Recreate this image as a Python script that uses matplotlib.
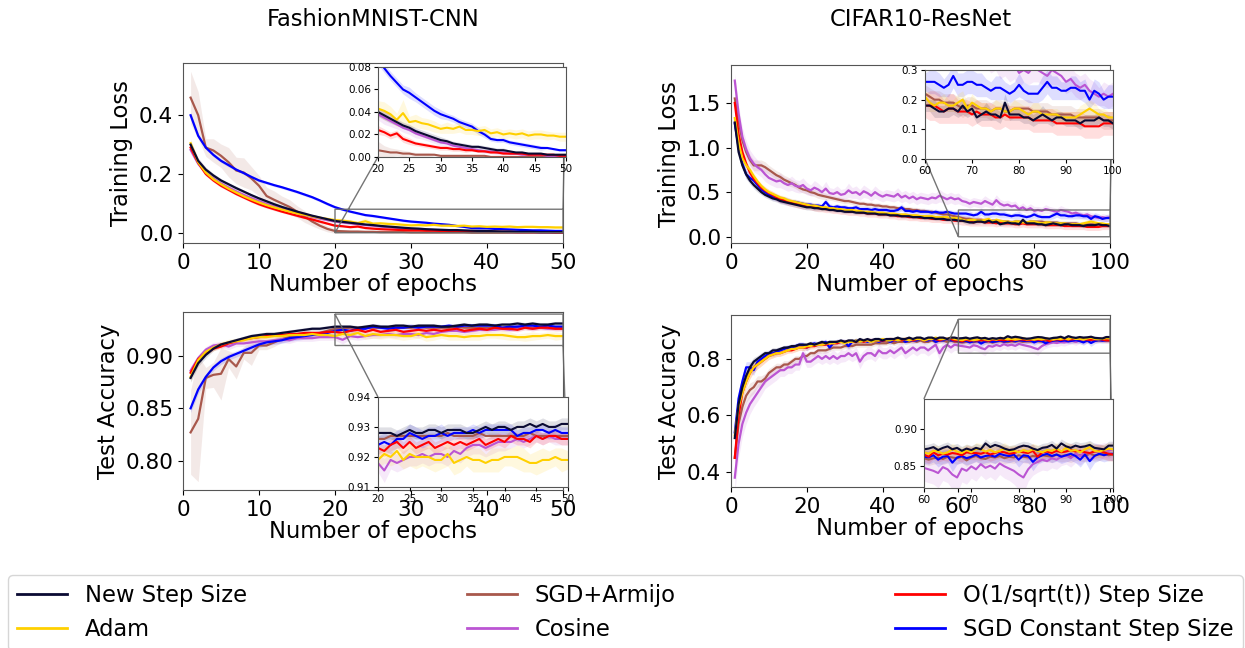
import numpy as np
import matplotlib
matplotlib.use("Agg")
import matplotlib.pyplot as plt

# ---------------- labels ----------------
methods = ["New Step Size", "Adam", "SGD+Armijo", "Cosine",
           "O(1/sqrt(t)) Step Size", "SGD Constant Step Size"]
titles = ["FashionMNIST-CNN", "CIFAR10-ResNet"]
xlabel = "Number of epochs"
ylabels = ["Training Loss", "Test Accuracy"]

# ---------------- FashionMNIST : training loss (epochs 1..50) ----------------
fm_loss_new = [0.300,0.245,0.215,0.195,0.178,0.165,0.152,0.140,0.128,0.117,
               0.107,0.097,0.088,0.080,0.072,0.065,0.058,0.052,0.046,0.040,
               0.037,0.034,0.031,0.028,0.026,0.023,0.021,0.019,0.017,0.015,
               0.014,0.012,0.011,0.010,0.009,0.009,0.008,0.007,0.006,0.006,
               0.005,0.004,0.004,0.003,0.003,0.003,0.002,0.002,0.002,0.002]
fm_loss_adam = [0.305,0.240,0.205,0.182,0.165,0.150,0.137,0.124,0.113,0.103,
                0.094,0.086,0.079,0.072,0.066,0.061,0.056,0.051,0.047,0.043,
                0.041,0.038,0.033,0.039,0.031,0.032,0.030,0.029,0.027,0.025,
                0.026,0.025,0.027,0.024,0.024,0.023,0.024,0.021,0.022,0.020,
                0.021,0.020,0.021,0.019,0.020,0.020,0.019,0.019,0.018,0.018]
fm_loss_armijo = [0.460,0.400,0.290,0.280,0.262,0.240,0.212,0.205,0.185,0.160,
                  0.125,0.112,0.100,0.088,0.072,0.055,0.038,0.024,0.013,0.006,
                  0.005,0.004,0.004,0.003,0.003,0.002,0.002,0.002,0.002,0.001,
                  0.001,0.001,0.001,0.001,0.001,0.001,0.001,0.000,0.000,0.000,
                  0.000,0.000,0.000,0.000,0.000,0.000,0.000,0.000,0.000,0.000]
fm_loss_cos = [0.282,0.235,0.205,0.185,0.168,0.154,0.141,0.129,0.118,0.108,
               0.098,0.090,0.082,0.074,0.067,0.060,0.054,0.048,0.043,0.038,
               0.035,0.032,0.029,0.026,0.024,0.021,0.019,0.017,0.015,0.013,
               0.012,0.010,0.009,0.008,0.007,0.006,0.005,0.005,0.004,0.004,
               0.003,0.003,0.002,0.002,0.002,0.002,0.001,0.001,0.001,0.001]
fm_loss_sqrt = [0.290,0.238,0.200,0.178,0.160,0.146,0.132,0.120,0.108,0.097,
                0.088,0.080,0.072,0.065,0.058,0.051,0.045,0.038,0.031,0.024,
                0.022,0.019,0.021,0.016,0.014,0.012,0.011,0.010,0.009,0.008,
                0.008,0.007,0.007,0.006,0.006,0.005,0.005,0.004,0.004,0.003,
                0.003,0.003,0.003,0.002,0.002,0.002,0.002,0.002,0.001,0.001]
fm_loss_const = [0.400,0.330,0.290,0.265,0.245,0.230,0.215,0.203,0.190,0.178,
                 0.170,0.162,0.155,0.147,0.139,0.130,0.121,0.110,0.098,0.087,
                 0.079,0.072,0.066,0.060,0.057,0.053,0.049,0.045,0.041,0.038,
                 0.036,0.034,0.031,0.029,0.027,0.023,0.020,0.016,0.015,0.015,
                 0.013,0.012,0.011,0.010,0.009,0.008,0.008,0.007,0.006,0.006]

fm_loss_new_sd = [0.012,0.010,0.008,0.007,0.006,0.006,0.006,0.005,0.005,0.005,
                  0.005,0.005,0.005,0.004,0.004,0.004,0.004,0.004,0.004,0.004,
                  0.004,0.004,0.003,0.003,0.003,0.003,0.003,0.003,0.003,0.003,
                  0.002,0.002,0.002,0.002,0.002,0.002,0.002,0.002,0.002,0.002,
                  0.001,0.001,0.001,0.001,0.001,0.001,0.001,0.001,0.001,0.001]
fm_loss_adam_sd = [0.015,0.010,0.008,0.007,0.006,0.006,0.006,0.006,0.006,0.006,
                   0.006,0.006,0.006,0.006,0.006,0.006,0.006,0.006,0.006,0.007,
                   0.008,0.007,0.006,0.012,0.005,0.006,0.005,0.005,0.005,0.004,
                   0.005,0.004,0.005,0.004,0.004,0.004,0.004,0.004,0.004,0.004,
                   0.004,0.004,0.004,0.004,0.004,0.004,0.004,0.003,0.004,0.004]
fm_loss_armijo_sd = [0.090,0.080,0.030,0.040,0.040,0.050,0.045,0.050,0.040,0.035,
                     0.030,0.030,0.025,0.025,0.020,0.020,0.015,0.012,0.010,0.008,
                     0.005,0.004,0.003,0.003,0.002,0.002,0.002,0.002,0.001,0.001,
                     0.001,0.001,0.001,0.001,0.001,0.001,0.001,0.001,0.001,0.001,
                     0.001,0.001,0.001,0.001,0.001,0.001,0.001,0.001,0.001,0.001]
fm_loss_cos_sd = [0.012,0.010,0.008,0.007,0.007,0.006,0.006,0.006,0.006,0.006,
                  0.006,0.006,0.006,0.005,0.005,0.005,0.005,0.005,0.005,0.005,
                  0.006,0.005,0.004,0.004,0.004,0.004,0.003,0.003,0.003,0.003,
                  0.002,0.002,0.002,0.002,0.002,0.002,0.002,0.002,0.002,0.002,
                  0.001,0.001,0.001,0.001,0.001,0.001,0.001,0.001,0.001,0.001]
fm_loss_sqrt_sd = [0.010,0.008,0.007,0.006,0.006,0.005,0.005,0.005,0.005,0.005,
                   0.005,0.005,0.004,0.004,0.004,0.004,0.004,0.004,0.004,0.004,
                   0.003,0.003,0.003,0.003,0.003,0.002,0.002,0.002,0.002,0.002,
                   0.002,0.002,0.002,0.002,0.001,0.001,0.001,0.001,0.001,0.001,
                   0.001,0.001,0.001,0.001,0.001,0.001,0.001,0.001,0.001,0.001]
fm_loss_const_sd = [0.010,0.008,0.007,0.006,0.006,0.006,0.005,0.005,0.005,0.005,
                    0.005,0.005,0.005,0.005,0.005,0.005,0.005,0.005,0.005,0.005,
                    0.004,0.004,0.004,0.004,0.005,0.004,0.004,0.004,0.004,0.004,
                    0.003,0.003,0.003,0.003,0.003,0.003,0.003,0.002,0.002,0.002,
                    0.002,0.002,0.002,0.002,0.002,0.002,0.001,0.001,0.001,0.001]

# ---------------- FashionMNIST : test accuracy (epochs 1..50) ----------------
fm_acc_new = [0.879,0.893,0.901,0.907,0.911,0.913,0.915,0.917,0.919,0.920,
              0.921,0.921,0.922,0.923,0.924,0.925,0.926,0.926,0.927,0.928,
              0.928,0.928,0.927,0.928,0.929,0.928,0.928,0.929,0.929,0.928,
              0.929,0.929,0.929,0.928,0.928,0.929,0.930,0.929,0.930,0.930,
              0.929,0.930,0.930,0.931,0.930,0.931,0.930,0.930,0.931,0.931]
fm_acc_adam = [0.880,0.896,0.904,0.908,0.911,0.913,0.914,0.915,0.917,0.918,
               0.918,0.919,0.919,0.920,0.920,0.920,0.921,0.920,0.920,0.919,
               0.921,0.920,0.922,0.919,0.921,0.920,0.920,0.920,0.919,0.919,
               0.921,0.918,0.919,0.920,0.919,0.919,0.918,0.919,0.919,0.920,
               0.920,0.920,0.919,0.918,0.918,0.919,0.919,0.920,0.919,0.919]
fm_acc_armijo = [0.827,0.840,0.879,0.882,0.883,0.897,0.890,0.903,0.903,0.910,
                 0.910,0.913,0.916,0.918,0.919,0.920,0.921,0.922,0.924,0.926,
                 0.926,0.927,0.927,0.927,0.927,0.927,0.927,0.927,0.927,0.927,
                 0.928,0.927,0.927,0.927,0.927,0.928,0.927,0.927,0.927,0.927,
                 0.927,0.927,0.927,0.928,0.927,0.927,0.927,0.927,0.927,0.927]
fm_acc_cos = [0.886,0.898,0.906,0.910,0.911,0.909,0.912,0.912,0.913,0.914,
              0.914,0.915,0.916,0.915,0.917,0.917,0.917,0.918,0.918,0.918,
              0.9155,0.919,0.918,0.919,0.920,0.920,0.921,0.920,0.921,0.921,
              0.920,0.922,0.921,0.923,0.924,0.924,0.923,0.924,0.925,0.925,
              0.925,0.926,0.925,0.926,0.927,0.926,0.927,0.926,0.926,0.926]
fm_acc_sqrt = [0.884,0.897,0.903,0.907,0.909,0.912,0.914,0.916,0.917,0.918,
               0.919,0.920,0.920,0.921,0.921,0.922,0.922,0.922,0.923,0.923,
               0.922,0.924,0.925,0.923,0.925,0.923,0.924,0.925,0.923,0.924,
               0.925,0.924,0.925,0.924,0.925,0.926,0.924,0.925,0.926,0.925,
               0.927,0.926,0.926,0.925,0.927,0.926,0.927,0.927,0.926,0.926]
fm_acc_const = [0.850,0.868,0.880,0.889,0.895,0.899,0.902,0.905,0.908,0.911,
                0.913,0.914,0.915,0.917,0.918,0.919,0.920,0.921,0.922,0.924,
                0.925,0.924,0.926,0.926,0.928,0.927,0.926,0.927,0.927,0.928,
                0.927,0.928,0.928,0.928,0.929,0.928,0.929,0.929,0.929,0.929,
                0.929,0.927,0.928,0.928,0.929,0.929,0.928,0.929,0.928,0.928]

fm_acc_new_sd = [0.004,0.003,0.003,0.002,0.002,0.002,0.002,0.002,0.002,0.002,
                 0.002,0.002,0.002,0.002,0.002,0.002,0.002,0.002,0.002,0.002,
                 0.002,0.002,0.002,0.002,0.002,0.002,0.002,0.002,0.002,0.002,
                 0.002,0.002,0.002,0.002,0.002,0.002,0.002,0.002,0.002,0.002,
                 0.002,0.002,0.002,0.002,0.002,0.002,0.002,0.002,0.002,0.002]
fm_acc_adam_sd = [0.004,0.004,0.003,0.003,0.003,0.003,0.003,0.003,0.003,0.003,
                  0.003,0.003,0.003,0.003,0.003,0.003,0.003,0.003,0.003,0.003,
                  0.003,0.003,0.004,0.003,0.004,0.004,0.003,0.004,0.004,0.003,
                  0.004,0.004,0.004,0.003,0.004,0.004,0.003,0.004,0.004,0.003,
                  0.003,0.004,0.004,0.003,0.004,0.004,0.003,0.003,0.004,0.003]
fm_acc_armijo_sd = [0.040,0.060,0.010,0.012,0.025,0.008,0.012,0.006,0.012,0.004,
                    0.004,0.004,0.003,0.003,0.003,0.002,0.002,0.002,0.002,0.001,
                    0.001,0.001,0.001,0.001,0.001,0.001,0.001,0.001,0.001,0.001,
                    0.001,0.001,0.001,0.001,0.001,0.001,0.001,0.001,0.001,0.001,
                    0.001,0.001,0.001,0.001,0.001,0.001,0.001,0.001,0.001,0.001]
fm_acc_cos_sd = [0.004,0.003,0.003,0.003,0.003,0.003,0.003,0.003,0.003,0.003,
                 0.003,0.003,0.003,0.003,0.003,0.003,0.003,0.003,0.003,0.003,
                 0.004,0.003,0.003,0.003,0.003,0.003,0.003,0.003,0.003,0.003,
                 0.003,0.003,0.003,0.003,0.003,0.003,0.003,0.003,0.003,0.003,
                 0.002,0.002,0.002,0.002,0.002,0.002,0.002,0.002,0.002,0.002]
fm_acc_sqrt_sd = [0.003,0.003,0.002,0.002,0.002,0.002,0.002,0.002,0.002,0.002,
                  0.002,0.002,0.002,0.002,0.002,0.002,0.002,0.002,0.002,0.002,
                  0.002,0.002,0.002,0.002,0.002,0.002,0.002,0.002,0.002,0.002,
                  0.002,0.002,0.002,0.002,0.002,0.002,0.002,0.002,0.002,0.002,
                  0.002,0.002,0.002,0.002,0.002,0.002,0.002,0.002,0.002,0.002]
fm_acc_const_sd = [0.004,0.004,0.003,0.003,0.003,0.003,0.003,0.003,0.003,0.003,
                   0.003,0.003,0.003,0.003,0.003,0.003,0.003,0.003,0.003,0.003,
                   0.003,0.003,0.003,0.003,0.003,0.003,0.003,0.003,0.003,0.003,
                   0.002,0.002,0.002,0.002,0.002,0.002,0.002,0.002,0.002,0.002,
                   0.002,0.002,0.002,0.002,0.002,0.002,0.002,0.002,0.002,0.002]

# ---------------- CIFAR10 : training loss (epochs 1..100) ----------------
cf_loss_new = [1.28,0.95,0.80,0.70,0.63,0.58,0.54,0.50,0.47,0.45,
               0.43,0.42,0.40,0.39,0.38,0.37,0.36,0.35,0.34,0.33,
               0.33,0.32,0.32,0.31,0.31,0.30,0.30,0.29,0.29,0.28,
               0.28,0.28,0.27,0.27,0.27,0.26,0.26,0.26,0.25,0.25,
               0.25,0.24,0.24,0.24,0.23,0.23,0.23,0.22,0.22,0.22,
               0.21,0.21,0.21,0.20,0.20,0.20,0.19,0.19,0.19,0.18,
               0.18,0.17,0.16,0.16,0.17,0.17,0.16,0.18,0.16,0.17,
               0.14,0.15,0.16,0.15,0.15,0.14,0.19,0.15,0.15,0.15,
               0.14,0.14,0.13,0.14,0.15,0.14,0.13,0.14,0.14,0.13,
               0.13,0.13,0.12,0.13,0.13,0.13,0.14,0.13,0.13,0.12]
cf_loss_adam = [1.33,1.05,0.88,0.80,0.75,0.68,0.62,0.57,0.53,0.50,
                0.48,0.46,0.44,0.43,0.41,0.40,0.39,0.38,0.37,0.36,
                0.35,0.35,0.34,0.33,0.33,0.32,0.32,0.31,0.31,0.30,
                0.30,0.30,0.29,0.29,0.28,0.28,0.28,0.27,0.27,0.27,
                0.26,0.26,0.26,0.25,0.25,0.25,0.24,0.24,0.24,0.23,
                0.23,0.23,0.23,0.22,0.22,0.22,0.22,0.21,0.21,0.21,
                0.19,0.18,0.19,0.19,0.18,0.18,0.19,0.20,0.17,0.19,
                0.18,0.17,0.17,0.16,0.17,0.17,0.16,0.16,0.17,0.17,
                0.16,0.15,0.16,0.16,0.15,0.15,0.15,0.15,0.14,0.14,
                0.14,0.14,0.15,0.16,0.17,0.16,0.15,0.15,0.14,0.14]
cf_loss_armijo = [1.55,1.30,1.08,0.95,0.86,0.80,0.80,0.80,0.78,0.75,
                  0.72,0.69,0.67,0.64,0.62,0.60,0.58,0.55,0.53,0.52,
                  0.50,0.49,0.47,0.46,0.45,0.44,0.43,0.42,0.41,0.40,
                  0.40,0.39,0.38,0.37,0.37,0.36,0.36,0.35,0.35,0.34,
                  0.34,0.33,0.33,0.32,0.32,0.31,0.31,0.30,0.30,0.29,
                  0.29,0.28,0.28,0.27,0.26,0.25,0.25,0.24,0.23,0.22,
                  0.21,0.20,0.20,0.19,0.19,0.19,0.18,0.17,0.18,0.18,
                  0.17,0.17,0.17,0.16,0.17,0.17,0.16,0.16,0.17,0.17,
                  0.17,0.17,0.16,0.16,0.16,0.16,0.15,0.15,0.15,0.15,
                  0.15,0.14,0.14,0.14,0.14,0.14,0.14,0.13,0.13,0.13]
cf_loss_cos = [1.75,1.38,1.12,0.98,0.88,0.82,0.78,0.75,0.70,0.66,
               0.64,0.62,0.63,0.60,0.58,0.60,0.57,0.56,0.58,0.54,
               0.52,0.55,0.53,0.50,0.54,0.49,0.48,0.50,0.47,0.48,
               0.52,0.49,0.50,0.47,0.51,0.49,0.46,0.50,0.47,0.45,
               0.47,0.46,0.45,0.48,0.44,0.46,0.43,0.45,0.42,0.44,
               0.43,0.42,0.44,0.43,0.46,0.44,0.42,0.44,0.42,0.43,
               0.40,0.39,0.37,0.39,0.38,0.37,0.40,0.38,0.36,0.41,
               0.37,0.35,0.36,0.34,0.35,0.31,0.33,0.30,0.32,0.29,
               0.30,0.29,0.31,0.30,0.29,0.28,0.30,0.29,0.28,0.26,
               0.27,0.25,0.24,0.25,0.23,0.22,0.21,0.22,0.21,0.22]
cf_loss_sqrt = [1.50,1.15,0.95,0.82,0.72,0.65,0.60,0.55,0.52,0.49,
                0.47,0.44,0.42,0.41,0.39,0.38,0.37,0.36,0.35,0.35,
                0.34,0.33,0.32,0.32,0.31,0.31,0.30,0.30,0.29,0.29,
                0.28,0.28,0.28,0.27,0.27,0.26,0.26,0.26,0.25,0.25,
                0.25,0.24,0.24,0.23,0.23,0.23,0.22,0.22,0.22,0.21,
                0.21,0.21,0.20,0.20,0.20,0.19,0.19,0.19,0.18,0.18,
                0.18,0.18,0.17,0.16,0.17,0.17,0.16,0.16,0.16,0.15,
                0.16,0.15,0.15,0.15,0.14,0.14,0.15,0.14,0.14,0.14,
                0.14,0.14,0.13,0.13,0.13,0.13,0.13,0.12,0.12,0.12,
                0.12,0.12,0.12,0.11,0.11,0.11,0.11,0.12,0.12,0.12]
cf_loss_const = [1.27,1.00,0.82,0.70,0.66,0.63,0.58,0.53,0.50,0.47,
                 0.45,0.44,0.42,0.41,0.40,0.39,0.39,0.38,0.37,0.36,
                 0.36,0.35,0.35,0.34,0.39,0.34,0.33,0.34,0.33,0.33,
                 0.32,0.32,0.33,0.31,0.31,0.31,0.30,0.31,0.30,0.30,
                 0.30,0.29,0.29,0.30,0.33,0.29,0.29,0.28,0.29,0.28,
                 0.28,0.28,0.27,0.28,0.27,0.27,0.28,0.27,0.26,0.26,
                 0.26,0.26,0.25,0.24,0.25,0.28,0.25,0.25,0.26,0.26,
                 0.25,0.25,0.24,0.23,0.24,0.24,0.23,0.22,0.23,0.25,
                 0.23,0.22,0.22,0.22,0.24,0.26,0.24,0.24,0.23,0.23,
                 0.24,0.24,0.23,0.23,0.20,0.23,0.22,0.20,0.21,0.21]

cf_loss_new_sd = [0.06,0.06,0.05,0.05,0.04,0.04,0.04,0.03,0.03,0.03,
                  0.03,0.03,0.03,0.03,0.03,0.03,0.03,0.03,0.03,0.03,
                  0.03,0.03,0.03,0.02,0.02,0.02,0.02,0.02,0.02,0.02,
                  0.02,0.02,0.02,0.02,0.02,0.02,0.02,0.02,0.02,0.02,
                  0.02,0.02,0.02,0.02,0.02,0.02,0.02,0.02,0.02,0.02,
                  0.02,0.02,0.02,0.02,0.02,0.02,0.02,0.02,0.02,0.02,
                  0.02,0.03,0.02,0.02,0.03,0.02,0.02,0.03,0.02,0.02,
                  0.02,0.02,0.03,0.02,0.02,0.02,0.03,0.02,0.02,0.02,
                  0.02,0.02,0.02,0.02,0.03,0.02,0.02,0.02,0.02,0.02,
                  0.02,0.02,0.02,0.02,0.02,0.02,0.02,0.02,0.02,0.02]
cf_loss_adam_sd = [0.05,0.05,0.05,0.04,0.04,0.04,0.03,0.03,0.03,0.03,
                   0.03,0.03,0.03,0.03,0.03,0.03,0.03,0.03,0.03,0.03,
                   0.03,0.03,0.03,0.03,0.03,0.02,0.02,0.02,0.02,0.02,
                   0.02,0.02,0.02,0.02,0.02,0.02,0.02,0.02,0.02,0.02,
                   0.02,0.02,0.02,0.02,0.02,0.02,0.02,0.02,0.02,0.02,
                   0.02,0.02,0.02,0.02,0.02,0.02,0.02,0.02,0.02,0.02,
                   0.03,0.02,0.02,0.03,0.02,0.02,0.03,0.03,0.02,0.03,
                   0.02,0.02,0.02,0.02,0.03,0.02,0.02,0.02,0.03,0.02,
                   0.02,0.02,0.03,0.03,0.02,0.02,0.02,0.02,0.02,0.02,
                   0.02,0.02,0.03,0.03,0.03,0.03,0.02,0.02,0.02,0.02]
cf_loss_armijo_sd = [0.08,0.08,0.07,0.07,0.06,0.06,0.06,0.06,0.06,0.05,
                     0.05,0.05,0.05,0.05,0.05,0.04,0.04,0.04,0.04,0.04,
                     0.04,0.04,0.04,0.04,0.04,0.03,0.03,0.03,0.03,0.03,
                     0.03,0.03,0.03,0.03,0.03,0.03,0.03,0.03,0.03,0.03,
                     0.03,0.03,0.03,0.03,0.03,0.03,0.03,0.03,0.03,0.03,
                     0.03,0.03,0.03,0.03,0.03,0.03,0.03,0.03,0.03,0.03,
                     0.03,0.03,0.03,0.03,0.03,0.03,0.03,0.03,0.03,0.03,
                     0.03,0.03,0.03,0.03,0.03,0.03,0.03,0.03,0.03,0.03,
                     0.03,0.03,0.03,0.03,0.03,0.03,0.03,0.03,0.03,0.03,
                     0.03,0.03,0.03,0.03,0.03,0.03,0.03,0.03,0.03,0.03]
cf_loss_cos_sd = [0.08,0.09,0.10,0.10,0.09,0.09,0.08,0.08,0.08,0.07,
                  0.07,0.07,0.08,0.07,0.07,0.08,0.07,0.07,0.08,0.07,
                  0.06,0.08,0.07,0.06,0.08,0.06,0.06,0.07,0.06,0.06,
                  0.08,0.06,0.07,0.06,0.07,0.06,0.06,0.07,0.06,0.06,
                  0.06,0.06,0.06,0.07,0.06,0.06,0.06,0.06,0.06,0.06,
                  0.06,0.06,0.06,0.06,0.07,0.06,0.06,0.06,0.06,0.06,
                  0.05,0.05,0.05,0.05,0.05,0.05,0.06,0.05,0.05,0.06,
                  0.05,0.05,0.05,0.05,0.05,0.04,0.05,0.04,0.05,0.05,
                  0.04,0.04,0.05,0.04,0.04,0.04,0.05,0.04,0.04,0.04,
                  0.04,0.04,0.04,0.04,0.04,0.04,0.03,0.04,0.04,0.04]
cf_loss_sqrt_sd = [0.06,0.06,0.05,0.05,0.05,0.04,0.04,0.04,0.04,0.04,
                   0.04,0.04,0.04,0.04,0.04,0.04,0.04,0.04,0.04,0.04,
                   0.04,0.04,0.04,0.04,0.04,0.04,0.04,0.04,0.04,0.04,
                   0.04,0.04,0.04,0.04,0.04,0.04,0.04,0.04,0.04,0.04,
                   0.04,0.04,0.04,0.04,0.04,0.04,0.04,0.04,0.04,0.04,
                   0.04,0.04,0.04,0.04,0.04,0.04,0.04,0.04,0.04,0.04,
                   0.05,0.05,0.05,0.04,0.05,0.05,0.04,0.04,0.04,0.04,
                   0.04,0.04,0.04,0.04,0.04,0.04,0.04,0.04,0.04,0.04,
                   0.04,0.04,0.04,0.04,0.04,0.04,0.04,0.04,0.04,0.04,
                   0.04,0.04,0.04,0.04,0.04,0.04,0.04,0.04,0.04,0.04]
cf_loss_const_sd = [0.06,0.06,0.05,0.05,0.05,0.05,0.04,0.04,0.04,0.04,
                    0.04,0.04,0.04,0.04,0.04,0.03,0.03,0.03,0.03,0.03,
                    0.03,0.03,0.03,0.03,0.04,0.03,0.03,0.03,0.03,0.03,
                    0.03,0.03,0.03,0.03,0.03,0.03,0.03,0.03,0.03,0.03,
                    0.03,0.03,0.03,0.03,0.04,0.03,0.03,0.03,0.03,0.03,
                    0.03,0.03,0.03,0.03,0.03,0.03,0.03,0.03,0.03,0.03,
                    0.04,0.04,0.04,0.03,0.04,0.04,0.04,0.04,0.04,0.04,
                    0.04,0.04,0.03,0.03,0.04,0.04,0.03,0.03,0.03,0.04,
                    0.03,0.03,0.03,0.03,0.04,0.04,0.04,0.04,0.03,0.03,
                    0.04,0.04,0.03,0.04,0.03,0.04,0.04,0.03,0.04,0.04]

# ---------------- CIFAR10 : test accuracy (epochs 1..100) ----------------
cf_acc_new = [0.52,0.64,0.70,0.74,0.77,0.79,0.80,0.81,0.82,0.82,
              0.83,0.83,0.835,0.84,0.84,0.845,0.845,0.85,0.85,0.85,
              0.855,0.85,0.855,0.86,0.855,0.86,0.86,0.86,0.865,0.86,
              0.865,0.865,0.86,0.87,0.865,0.87,0.865,0.87,0.87,0.865,
              0.87,0.87,0.87,0.875,0.87,0.87,0.875,0.87,0.875,0.875,
              0.87,0.875,0.875,0.87,0.875,0.875,0.87,0.875,0.875,0.872,
              0.873,0.875,0.871,0.874,0.876,0.872,0.874,0.870,0.873,0.871,
              0.874,0.872,0.880,0.875,0.878,0.876,0.873,0.871,0.872,0.875,
              0.877,0.876,0.873,0.871,0.874,0.875,0.878,0.873,0.880,0.876,
              0.874,0.877,0.875,0.876,0.878,0.874,0.873,0.872,0.877,0.877]
cf_acc_adam = [0.53,0.63,0.68,0.72,0.75,0.77,0.78,0.79,0.80,0.81,
               0.815,0.82,0.82,0.825,0.83,0.835,0.835,0.84,0.84,0.845,
               0.845,0.85,0.85,0.85,0.855,0.855,0.855,0.86,0.86,0.855,
               0.86,0.86,0.865,0.86,0.865,0.865,0.86,0.865,0.865,0.87,
               0.865,0.865,0.87,0.865,0.87,0.87,0.865,0.87,0.87,0.87,
               0.865,0.87,0.87,0.875,0.87,0.87,0.87,0.875,0.87,0.868,
               0.866,0.870,0.869,0.866,0.868,0.872,0.869,0.867,0.871,0.868,
               0.873,0.872,0.869,0.871,0.868,0.870,0.873,0.869,0.870,0.868,
               0.871,0.869,0.872,0.870,0.868,0.871,0.870,0.873,0.869,0.874,
               0.870,0.871,0.868,0.872,0.875,0.870,0.869,0.871,0.873,0.872]
cf_acc_armijo = [0.45,0.57,0.63,0.67,0.69,0.70,0.72,0.72,0.73,0.75,
                 0.76,0.77,0.77,0.78,0.78,0.79,0.80,0.80,0.81,0.81,
                 0.82,0.82,0.83,0.83,0.83,0.835,0.84,0.84,0.84,0.845,
                 0.845,0.845,0.85,0.85,0.85,0.85,0.85,0.855,0.855,0.855,
                 0.855,0.86,0.855,0.86,0.86,0.86,0.86,0.865,0.86,0.865,
                 0.86,0.86,0.865,0.86,0.865,0.865,0.86,0.865,0.86,0.86,
                 0.858,0.860,0.861,0.859,0.862,0.861,0.860,0.862,0.857,0.861,
                 0.863,0.860,0.859,0.862,0.861,0.863,0.860,0.862,0.861,0.864,
                 0.862,0.861,0.863,0.862,0.864,0.863,0.862,0.865,0.863,0.864,
                 0.862,0.865,0.864,0.863,0.866,0.864,0.865,0.866,0.864,0.865]
cf_acc_cos = [0.38,0.50,0.57,0.61,0.64,0.66,0.68,0.70,0.72,0.73,
              0.74,0.75,0.76,0.76,0.77,0.77,0.78,0.78,0.82,0.79,
              0.79,0.80,0.81,0.80,0.81,0.80,0.81,0.80,0.81,0.81,
              0.82,0.81,0.82,0.79,0.81,0.82,0.82,0.81,0.83,0.82,
              0.82,0.83,0.82,0.83,0.84,0.82,0.83,0.84,0.83,0.84,
              0.84,0.83,0.84,0.85,0.82,0.84,0.85,0.84,0.85,0.847,
              0.845,0.843,0.840,0.848,0.845,0.838,0.834,0.846,0.843,0.849,
              0.845,0.852,0.847,0.850,0.846,0.853,0.849,0.846,0.843,0.838,
              0.834,0.845,0.852,0.855,0.858,0.856,0.860,0.858,0.862,0.864,
              0.860,0.866,0.863,0.868,0.866,0.870,0.868,0.871,0.870,0.873]
cf_acc_sqrt = [0.45,0.60,0.68,0.72,0.75,0.77,0.78,0.79,0.80,0.81,
               0.815,0.82,0.82,0.825,0.83,0.83,0.835,0.84,0.84,0.84,
               0.845,0.845,0.85,0.85,0.85,0.855,0.855,0.855,0.86,0.86,
               0.86,0.86,0.86,0.865,0.86,0.865,0.865,0.865,0.865,0.865,
               0.865,0.87,0.865,0.87,0.865,0.87,0.87,0.865,0.87,0.87,
               0.865,0.87,0.87,0.87,0.865,0.87,0.87,0.87,0.865,0.865,
               0.862,0.868,0.864,0.866,0.865,0.867,0.866,0.864,0.868,0.867,
               0.867,0.866,0.868,0.865,0.867,0.869,0.868,0.866,0.867,0.869,
               0.868,0.867,0.870,0.862,0.868,0.869,0.867,0.870,0.868,0.869,
               0.871,0.869,0.870,0.868,0.867,0.869,0.870,0.868,0.866,0.865]
cf_acc_const = [0.54,0.66,0.72,0.77,0.77,0.76,0.79,0.80,0.81,0.82,
                0.82,0.825,0.83,0.835,0.84,0.84,0.845,0.85,0.85,0.84,
                0.85,0.855,0.85,0.855,0.86,0.84,0.855,0.86,0.86,0.86,
                0.845,0.86,0.865,0.86,0.865,0.86,0.865,0.865,0.86,0.865,
                0.865,0.86,0.865,0.865,0.87,0.86,0.865,0.865,0.865,0.87,
                0.865,0.865,0.87,0.86,0.865,0.865,0.87,0.865,0.865,0.862,
                0.861,0.864,0.858,0.862,0.863,0.854,0.861,0.863,0.860,0.862,
                0.865,0.861,0.863,0.864,0.862,0.866,0.864,0.863,0.865,0.858,
                0.864,0.863,0.855,0.861,0.864,0.866,0.863,0.865,0.862,0.864,
                0.866,0.863,0.858,0.865,0.856,0.863,0.866,0.864,0.866,0.866]

cf_acc_new_sd = [0.030,0.030,0.025,0.020,0.018,0.015,0.012,0.012,0.010,0.010,
                 0.010,0.010,0.008,0.008,0.008,0.008,0.008,0.008,0.008,0.008,
                 0.008,0.008,0.008,0.008,0.008,0.007,0.007,0.007,0.007,0.007,
                 0.007,0.007,0.007,0.007,0.007,0.007,0.007,0.007,0.007,0.007,
                 0.006,0.006,0.006,0.006,0.006,0.006,0.006,0.006,0.006,0.006,
                 0.006,0.006,0.006,0.006,0.006,0.006,0.006,0.006,0.006,0.006,
                 0.006,0.006,0.006,0.006,0.006,0.006,0.006,0.006,0.006,0.006,
                 0.006,0.006,0.006,0.006,0.006,0.006,0.006,0.006,0.006,0.006,
                 0.006,0.006,0.006,0.006,0.006,0.006,0.006,0.006,0.006,0.006,
                 0.006,0.006,0.006,0.006,0.006,0.006,0.006,0.006,0.006,0.006]
cf_acc_adam_sd = [0.030,0.030,0.025,0.022,0.020,0.018,0.015,0.015,0.012,0.012,
                  0.012,0.012,0.010,0.010,0.010,0.010,0.010,0.010,0.010,0.010,
                  0.010,0.010,0.010,0.010,0.010,0.009,0.009,0.009,0.009,0.009,
                  0.009,0.009,0.009,0.009,0.009,0.009,0.009,0.009,0.009,0.009,
                  0.008,0.008,0.008,0.008,0.008,0.008,0.008,0.008,0.008,0.008,
                  0.008,0.008,0.008,0.008,0.008,0.008,0.008,0.008,0.008,0.008,
                  0.008,0.008,0.008,0.008,0.008,0.008,0.008,0.008,0.008,0.008,
                  0.008,0.008,0.008,0.008,0.008,0.008,0.008,0.008,0.008,0.008,
                  0.008,0.008,0.008,0.008,0.008,0.008,0.008,0.008,0.008,0.008,
                  0.008,0.008,0.008,0.008,0.008,0.008,0.008,0.008,0.008,0.008]
cf_acc_armijo_sd = [0.030,0.030,0.030,0.025,0.025,0.022,0.020,0.020,0.018,0.016,
                    0.015,0.015,0.014,0.014,0.013,0.012,0.012,0.012,0.011,0.011,
                    0.010,0.010,0.010,0.010,0.010,0.010,0.009,0.009,0.009,0.009,
                    0.009,0.009,0.009,0.009,0.009,0.009,0.009,0.009,0.009,0.009,
                    0.008,0.008,0.008,0.008,0.008,0.008,0.008,0.008,0.008,0.008,
                    0.008,0.008,0.008,0.008,0.008,0.008,0.008,0.008,0.008,0.008,
                    0.008,0.008,0.008,0.008,0.008,0.008,0.008,0.008,0.008,0.008,
                    0.008,0.008,0.008,0.008,0.008,0.008,0.008,0.008,0.008,0.008,
                    0.008,0.008,0.008,0.008,0.008,0.008,0.008,0.008,0.008,0.008,
                    0.008,0.008,0.008,0.008,0.008,0.008,0.008,0.008,0.008,0.008]
cf_acc_cos_sd = [0.050,0.050,0.045,0.040,0.035,0.030,0.030,0.028,0.025,0.025,
                 0.025,0.025,0.022,0.022,0.022,0.022,0.020,0.020,0.025,0.020,
                 0.020,0.020,0.022,0.020,0.022,0.020,0.022,0.020,0.022,0.020,
                 0.022,0.020,0.022,0.025,0.020,0.022,0.020,0.020,0.022,0.020,
                 0.020,0.020,0.020,0.020,0.022,0.020,0.020,0.020,0.020,0.020,
                 0.020,0.020,0.020,0.020,0.025,0.020,0.020,0.020,0.020,0.018,
                 0.018,0.018,0.020,0.018,0.018,0.020,0.022,0.018,0.018,0.016,
                 0.016,0.015,0.016,0.015,0.016,0.015,0.016,0.016,0.018,0.020,
                 0.022,0.016,0.015,0.014,0.014,0.013,0.013,0.013,0.012,0.012,
                 0.012,0.012,0.012,0.011,0.011,0.011,0.011,0.010,0.010,0.010]
cf_acc_sqrt_sd = [0.030,0.030,0.025,0.022,0.020,0.018,0.016,0.015,0.014,0.012,
                  0.012,0.012,0.011,0.011,0.010,0.010,0.010,0.010,0.010,0.010,
                  0.010,0.010,0.010,0.010,0.010,0.009,0.009,0.009,0.009,0.009,
                  0.009,0.009,0.009,0.009,0.009,0.009,0.009,0.009,0.009,0.009,
                  0.009,0.009,0.009,0.009,0.009,0.009,0.009,0.009,0.009,0.009,
                  0.009,0.009,0.009,0.009,0.009,0.009,0.009,0.009,0.009,0.009,
                  0.009,0.009,0.009,0.009,0.009,0.009,0.009,0.009,0.009,0.009,
                  0.009,0.009,0.009,0.009,0.009,0.009,0.009,0.009,0.009,0.009,
                  0.009,0.009,0.009,0.009,0.009,0.009,0.009,0.009,0.009,0.009,
                  0.009,0.009,0.009,0.009,0.009,0.009,0.009,0.009,0.009,0.009]
cf_acc_const_sd = [0.030,0.030,0.025,0.020,0.020,0.018,0.015,0.014,0.012,0.012,
                   0.012,0.012,0.010,0.010,0.010,0.010,0.010,0.010,0.010,0.012,
                   0.010,0.010,0.010,0.010,0.010,0.012,0.010,0.010,0.010,0.010,
                   0.012,0.009,0.009,0.009,0.009,0.009,0.009,0.009,0.009,0.009,
                   0.009,0.009,0.009,0.009,0.009,0.009,0.009,0.009,0.009,0.009,
                   0.009,0.009,0.009,0.009,0.009,0.009,0.009,0.009,0.009,0.009,
                   0.009,0.009,0.010,0.009,0.009,0.012,0.009,0.009,0.009,0.009,
                   0.009,0.009,0.009,0.009,0.009,0.009,0.009,0.009,0.009,0.010,
                   0.009,0.009,0.012,0.009,0.009,0.009,0.009,0.009,0.009,0.009,
                   0.009,0.009,0.010,0.009,0.012,0.009,0.009,0.009,0.009,0.009]

# ---------------- styling ----------------
colors = ["#0a0a32", "#ffd000", "#a8584c", "#bb55d3", "#ff0000", "#0000ff"]
draw_order = [2, 3, 5, 4, 1, 0]

panels = [
    dict(mean=[fm_loss_new, fm_loss_adam, fm_loss_armijo, fm_loss_cos, fm_loss_sqrt, fm_loss_const],
         sd=[fm_loss_new_sd, fm_loss_adam_sd, fm_loss_armijo_sd, fm_loss_cos_sd, fm_loss_sqrt_sd, fm_loss_const_sd],
         pos=[183, 63, 563, 243], xlim=(0, 50), ylim=(-0.035, 0.578),
         xticks=[0, 10, 20, 30, 40, 50], yticks=[0.0, 0.2, 0.4], yfmt="{:.1f}",
         ylabel=ylabels[0], title=titles[0],
         inset=[0.513, 0.478, 0.495, 0.50], ixlim=(20, 50), iylim=(0.0, 0.08),
         ixticks=[20, 25, 30, 35, 40, 45, 50], iyticks=[0.0, 0.02, 0.04, 0.06, 0.08], iyfmt="{:.2f}"),
    dict(mean=[cf_loss_new, cf_loss_adam, cf_loss_armijo, cf_loss_cos, cf_loss_sqrt, cf_loss_const],
         sd=[cf_loss_new_sd, cf_loss_adam_sd, cf_loss_armijo_sd, cf_loss_cos_sd, cf_loss_sqrt_sd, cf_loss_const_sd],
         pos=[731, 65, 1110, 243], xlim=(0, 100), ylim=(-0.07, 1.925),
         xticks=[0, 20, 40, 60, 80, 100], yticks=[0.0, 0.5, 1.0, 1.5], yfmt="{:.1f}",
         ylabel=ylabels[0], title=titles[1],
         inset=[0.512, 0.472, 0.496, 0.50], ixlim=(60, 100), iylim=(0.0, 0.3),
         ixticks=[60, 70, 80, 90, 100], iyticks=[0.0, 0.1, 0.2, 0.3], iyfmt="{:.1f}"),
    dict(mean=[fm_acc_new, fm_acc_adam, fm_acc_armijo, fm_acc_cos, fm_acc_sqrt, fm_acc_const],
         sd=[fm_acc_new_sd, fm_acc_adam_sd, fm_acc_armijo_sd, fm_acc_cos_sd, fm_acc_sqrt_sd, fm_acc_const_sd],
         pos=[183, 312, 563, 490], xlim=(0, 50), ylim=(0.772, 0.942),
         xticks=[0, 10, 20, 30, 40, 50], yticks=[0.80, 0.85, 0.90], yfmt="{:.2f}",
         ylabel=ylabels[1], title=None,
         inset=[0.513, 0.017, 0.50, 0.506], ixlim=(20, 50), iylim=(0.91, 0.94),
         ixticks=[20, 25, 30, 35, 40, 45, 50], iyticks=[0.91, 0.92, 0.93, 0.94], iyfmt="{:.2f}"),
    dict(mean=[cf_acc_new, cf_acc_adam, cf_acc_armijo, cf_acc_cos, cf_acc_sqrt, cf_acc_const],
         sd=[cf_acc_new_sd, cf_acc_adam_sd, cf_acc_armijo_sd, cf_acc_cos_sd, cf_acc_sqrt_sd, cf_acc_const_sd],
         pos=[731, 315, 1110, 487], xlim=(0, 100), ylim=(0.347, 0.955),
         xticks=[0, 20, 40, 60, 80, 100], yticks=[0.4, 0.6, 0.8], yfmt="{:.1f}",
         ylabel=ylabels[1], title=None,
         inset=[0.509, -0.005, 0.50, 0.517], ixlim=(60, 100), iylim=(0.82, 0.94),
         ixticks=[60, 70, 80, 90, 100], iyticks=[0.85, 0.90], iyfmt="{:.2f}"),
]

W, H = 1245, 648
fig = plt.figure(figsize=(W / 100, H / 100), dpi=100)

handles = [None] * len(methods)


def draw(ax, p, lw):
    for k in draw_order:
        m = np.array(p["mean"][k])
        s = np.array(p["sd"][k])
        x = np.arange(1, len(m) + 1)
        ax.fill_between(x, m - s, m + s, color=colors[k], alpha=0.13, lw=0)
        ln, = ax.plot(x, m, color=colors[k], lw=lw, label=methods[k])
        if handles[k] is None:
            handles[k] = ln


for p in panels:
    l, t, r, b = p["pos"]
    ax = fig.add_axes([l / W, 1 - b / H, (r - l) / W, (b - t) / H])
    draw(ax, p, 1.6)
    ax.set_xlim(*p["xlim"])
    ax.set_ylim(*p["ylim"])
    ax.set_xticks(p["xticks"])
    ax.set_yticks(p["yticks"])
    ax.set_yticklabels([p["yfmt"].format(v) for v in p["yticks"]])
    ax.tick_params(labelsize=15.5)
    ax.set_xlabel(xlabel, fontsize=16.3, labelpad=0)
    ax.set_ylabel(p["ylabel"], fontsize=16.3, labelpad=4)
    for sp in ax.spines.values():
        sp.set_color("#555555")
    if p["title"]:
        fig.text((l + r) / 2 / W, 1 - 20 / H, p["title"], ha="center", va="center", fontsize=16.3)

    axin = ax.inset_axes(p["inset"])
    draw(axin, p, 1.5)
    axin.set_xlim(*p["ixlim"])
    axin.set_ylim(*p["iylim"])
    axin.set_xticks(p["ixticks"])
    axin.set_yticks(p["iyticks"])
    axin.set_yticklabels([p["iyfmt"].format(v) for v in p["iyticks"]])
    axin.tick_params(labelsize=7.5, length=3, pad=2)
    for sp in axin.spines.values():
        sp.set_color("#555555")
    ax.indicate_inset_zoom(axin, edgecolor="#666666", alpha=0.9, lw=1.0)

leg = fig.legend(handles, methods, loc="upper left", ncol=3, mode="expand",
                 bbox_to_anchor=(8 / W, 1 - 575 / H, (1243 - 8) / W, 0),
                 fontsize=16.3, frameon=True, borderaxespad=0, handlelength=2.2,
                 labelspacing=0.5)
for h in leg.get_lines():
    h.set_linewidth(2)

fig.savefig("out.png", dpi=100)
